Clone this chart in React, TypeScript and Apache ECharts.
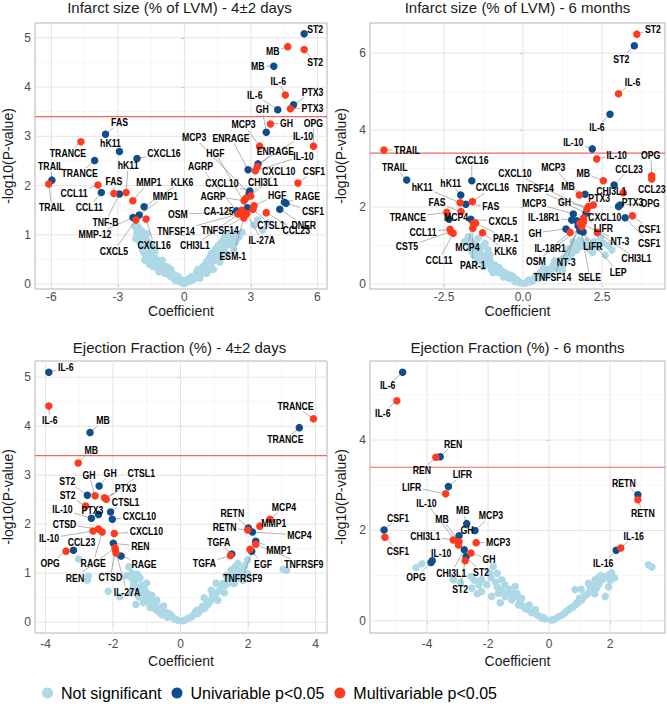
import React, { useEffect, useRef } from "react";
import * as echarts from "echarts";

// ---------------- data ----------------
const legendNames = ["Not significant", "Univariable p<0.05", "Multivariable p<0.05"];
const panelTitles = [
  "Infarct size (% of LVM) - 4±2 days",
  "Infarct size (% of LVM) - 6 months",
  "Ejection Fraction (%) - 4±2 days",
  "Ejection Fraction (%) - 6 months",
];
const threshold = 3.4;

// Panel 1: Infarct size 4±2 days
const p1Names = ["ST2","MB","ST2","MB","IL-6","PTX3","IL-6","PTX3","GH","GH","OPG","MCP3","FAS","TRANCE","hK11","CXCL16","TRANCE","TRAIL","TRAIL","CCL11","CCL11","hK11","FAS","TNF-B","MMP1","KLK6","MMP1","MMP-12","CXCL5","CXCL16","IL-10","ENRAGE","IL-10","ENRAGE","CSF1","MCP3","CXCL10","CHI3L1","CXCL10","AGRP","RAGE","HGF","HGF","CSF1","DNER","AGRP","CA-125","OSM","CTSL1","CCL23","TNFSF14","TNFSF14","CHI3L1","IL-27A","ESM-1"];
const p1Group = ["U","M","M","U","M","U","U","M","M","U","M","M","U","M","U","U","U","U","M","M","U","M","M","U","M","U","U","U","M","M","U","M","M","U","M","U","M","M","U","M","U","M","U","U","U","U","M","U","M","M","M","M","U","M","M"];
const p1Coef = [5.40,4.66,5.40,4.03,4.55,4.92,4.21,4.78,3.88,3.69,5.82,3.39,-3.56,-4.67,-2.93,-2.14,-4.05,-5.98,-6.12,-3.90,-3.75,-2.63,-3.18,-2.93,-2.33,-1.82,-2.04,-2.32,-2.19,-1.73,3.32,3.29,3.20,2.87,5.12,2.92,2.99,2.77,2.95,2.69,4.51,3.14,2.84,4.58,4.30,2.35,2.58,2.41,3.09,3.69,2.42,2.69,2.50,2.81,2.68];
const p1LogP = [5.08,4.82,4.76,4.42,3.84,3.64,3.54,3.56,3.25,3.08,2.80,2.80,3.04,2.89,2.69,2.55,2.51,2.11,2.03,2.01,1.86,1.86,1.84,1.83,1.69,1.57,1.40,1.35,1.30,1.32,2.44,2.38,2.30,2.32,2.05,1.84,1.79,1.74,1.89,1.69,1.66,1.59,1.55,1.64,1.52,1.49,1.50,1.46,1.52,1.45,1.42,1.37,1.44,1.43,1.34];
const p1NotSig = [[-2.23,1.17],[-2.15,1.05],[-2.05,1.12],[-2.2,0.92],[-1.95,1.0],[-1.85,0.88],[-1.75,0.95],[-1.9,0.75],[-1.8,0.62],[-1.7,0.78],[-1.62,0.85],[-1.55,0.7],[-1.79,0.49],[-1.65,0.55],[-1.5,0.6],[-1.45,0.48],[-1.38,0.55],[-1.3,0.42],[-1.25,0.5],[-1.4,0.35],[-1.2,0.33],[-1.1,0.4],[-1.05,0.3],[-0.95,0.36],[-1.15,0.25],[-0.9,0.22],[-0.82,0.3],[-0.75,0.2],[-0.68,0.26],[-0.6,0.15],[-0.55,0.22],[-0.48,0.12],[-0.4,0.17],[-0.35,0.08],[-0.28,0.12],[-0.22,0.05],[-0.15,0.07],[-0.1,0.03],[-0.05,0.01],[-0.62,0.3],[-1.0,0.48],[-1.33,0.66],[-1.58,0.4],[-2.0,0.85],[-2.1,0.98],[-1.98,0.92],[-1.88,0.68],[-1.72,0.6],[-1.6,0.62],[-1.52,0.52],[-1.35,0.45],[-1.18,0.45],[-1.12,0.35],[-0.98,0.28],[-0.85,0.25],[-0.78,0.35],[-0.7,0.3],[-0.5,0.18],[-0.42,0.08],[-0.3,0.16],[-0.18,0.1],[-0.08,0.06],[-1.7,1.02],[-1.92,1.08],[-2.12,1.18],[-1.48,0.78],[0.05,0.02],[0.12,0.05],[0.2,0.08],[0.28,0.06],[0.35,0.13],[0.42,0.1],[0.5,0.18],[0.58,0.15],[0.65,0.24],[0.72,0.2],[0.8,0.3],[0.88,0.26],[0.95,0.38],[1.02,0.34],[1.1,0.45],[1.18,0.4],[1.25,0.52],[1.34,0.48],[1.4,0.6],[1.47,0.55],[1.55,0.68],[1.62,0.63],[1.7,0.76],[1.78,0.72],[1.85,0.84],[1.92,0.8],[2.0,0.92],[2.1,1.04],[2.23,0.69],[2.15,0.88],[1.3,0.3],[1.0,0.22],[0.7,0.12],[1.6,0.45],[1.9,0.6],[3.13,1.2],[3.75,1.24],[3.53,1.1],[3.3,1.3],[2.6,1.05],[2.45,0.95],[0.15,0.1],[0.32,0.15],[0.45,0.16],[0.55,0.25],[0.62,0.3],[0.75,0.28],[0.85,0.36],[0.98,0.44],[1.08,0.5],[1.15,0.55],[1.22,0.62],[1.32,0.58],[1.38,0.7],[1.45,0.65],[1.52,0.78],[1.68,0.85],[1.75,0.9],[1.82,0.95],[1.95,1.0],[2.05,0.8],[1.58,0.52],[1.1,0.28],[2.3,0.85],[2.2,1.0]];
const p1XTicks = [-6, -3, 0, 3, 6];
const p1YTicks = [0, 1, 2, 3, 4, 5];

// Panel 2: Infarct size 6 months
const p2Names = ["ST2","ST2","IL-6","IL-6","IL-10","IL-10","TRAIL","TRAIL","CXCL16","OPG","CCL23","MCP3","MB","MB","CCL23","CHI3L1","PTX3","OPG","PTX3","GH","CXCL10","TNFSF14","MCP3","CXCL10","IL-18R1","LIFR","GH","NT-3","IL-18R1","LIFR","CHI3L1","OSM","NT-3","LEP","TNFSF14","SELE","CSF1","CSF1","hK11","hK11","FAS","CXCL16","FAS","TRANCE","MCP4","CXCL5","PAR-1","MCP4","PAR-1","KLK6","CCL11","CST5","CCL11"];
const p2Group = ["M","U","M","U","U","M","M","U","U","M","M","M","M","U","U","M","U","U","M","M","M","U","U","U","U","M","U","M","M","U","M","M","U","U","M","U","M","U","U","M","U","M","M","M","U","U","M","M","M","M","M","M","M"];
const p2Coef = [3.60,3.52,3.02,2.75,2.19,2.33,-4.40,-3.68,-1.62,4.07,4.07,1.78,2.54,1.96,2.88,3.17,3.02,3.07,2.22,2.07,2.02,1.99,1.59,1.70,1.54,1.91,1.36,1.80,1.49,1.80,2.35,1.86,1.74,1.90,1.91,1.82,3.46,3.23,-1.97,-1.99,-1.81,-1.60,-1.96,-2.41,-2.34,-1.65,-1.50,-1.57,-1.59,-1.28,-2.31,-2.28,-2.21];
const p2LogP = [6.49,6.19,4.94,4.41,3.51,3.25,3.48,2.70,2.68,2.81,2.73,2.31,2.68,2.33,2.57,2.37,2.01,2.05,2.05,2.01,1.94,1.84,1.82,1.64,1.66,1.71,1.43,1.58,1.34,1.38,1.34,1.49,1.51,1.35,1.61,1.48,1.77,1.72,2.31,2.11,2.07,2.14,1.88,1.86,1.68,1.68,1.58,1.58,1.45,1.33,1.42,1.36,1.32];
const p2NotSig = [[-1.73,1.23],[-1.42,1.19],[-1.6,1.05],[-1.52,0.88],[-1.31,0.97],[-1.1,0.88],[-1.57,0.75],[-1.35,0.78],[-1.2,0.7],[-1.31,0.62],[-1.15,0.55],[-0.99,0.45],[-1.05,0.62],[-0.9,0.5],[-0.82,0.38],[-0.67,0.28],[-0.75,0.42],[-0.58,0.3],[-0.5,0.2],[-0.42,0.24],[-0.36,0.15],[-0.28,0.1],[-0.2,0.12],[-0.09,0.03],[-0.15,0.06],[-1.45,0.6],[-1.25,0.45],[-0.95,0.3],[-0.62,0.18],[-1.68,0.95],[-1.85,1.1],[-1.2,1.05],[-1.65,1.12],[-1.5,1.0],[-1.45,0.9],[-1.38,0.82],[-1.25,0.75],[-1.18,0.62],[-1.08,0.52],[-1.0,0.38],[-0.85,0.45],[-0.78,0.3],[-0.7,0.35],[-0.55,0.25],[-0.45,0.15],[-0.32,0.2],[-0.25,0.06],[-1.62,0.85],[-1.4,0.68],[-1.05,0.75],[0.08,0.02],[0.17,0.1],[0.3,0.08],[0.4,0.18],[0.59,0.28],[0.5,0.14],[0.7,0.32],[0.8,0.24],[0.9,0.4],[1.01,0.45],[1.1,0.38],[1.2,0.55],[1.33,0.62],[1.25,0.48],[1.45,0.7],[1.54,0.8],[1.4,0.9],[1.65,1.01],[1.8,1.14],[1.7,0.88],[1.96,1.01],[2.1,0.9],[2.38,0.95],[2.54,1.06],[2.81,0.88],[2.6,0.75],[2.45,1.2],[1.58,1.1],[1.0,0.6],[0.65,0.4],[2.25,1.1],[2.7,1.0],[0.22,0.05],[0.35,0.15],[0.45,0.22],[0.55,0.3],[0.65,0.22],[0.75,0.38],[0.85,0.32],[0.95,0.48],[1.05,0.52],[1.15,0.6],[1.28,0.68],[1.38,0.75],[1.5,0.92],[1.6,0.95],[1.72,1.05],[1.85,0.98],[2.0,1.1],[2.3,1.0],[2.2,0.82],[1.25,0.35]];
const p2XTicks = [-2.5, 0, 2.5];
const p2YTicks = [0, 2, 4, 6];

// Panel 3: Ejection fraction 4±2 days
const p3Names = ["IL-6","IL-6","MB","MB","TRANCE","TRANCE","GH","GH","ST2","PTX3","CTSL1","ST2","PTX3","IL-10","CTSL1","CXCL10","IL-10","CTSD","RAGE","CXCL10","CCL23","OPG","REN","REN","CTSD","IL-27A","RAGE","RETN","RETN","MCP4","MMP1","MCP4","MMP1","TNFRSF9","EGF","TNFRSF9","TGFA","TGFA"];
const p3Group = ["U","M","U","M","U","M","U","M","U","M","M","M","U","U","U","U","M","M","M","M","U","M","U","M","M","M","U","U","M","M","M","U","U","M","M","U","U","M"];
const p3Coef = [-3.90,-3.90,-2.68,-3.03,3.52,3.94,-2.41,-2.53,-2.76,-2.25,-2.20,-2.81,-2.43,-2.64,-2.07,-2.02,-2.59,-2.43,-2.32,-1.96,-3.17,-3.39,-1.99,-1.94,-1.93,-1.91,-1.76,2.01,1.99,2.65,2.35,2.13,2.23,2.23,2.06,2.11,1.52,1.48];
const p3LogP = [5.10,4.41,3.87,3.25,3.97,4.15,2.78,2.58,2.59,2.54,2.51,2.37,2.20,2.12,2.25,2.10,1.86,1.90,1.84,1.81,1.47,1.45,1.61,1.52,1.48,1.41,1.35,1.92,1.88,2.10,1.96,1.84,1.65,1.59,1.49,1.45,1.39,1.36];
const p3NotSig = [[-3.02,1.29],[-2.73,0.94],[-2.76,0.86],[-2.14,0.63],[-1.8,0.52],[-1.53,1.13],[-1.44,1.0],[-1.34,0.86],[-1.39,0.72],[-1.24,0.52],[-1.05,0.65],[-0.95,0.45],[-0.75,0.38],[-0.65,0.28],[-0.46,0.21],[-0.26,0.12],[-0.07,0.04],[-1.32,0.36],[-1.15,0.75],[-1.1,0.4],[-0.85,0.55],[-0.9,0.3],[-0.55,0.15],[-0.35,0.18],[-0.15,0.06],[-1.6,0.95],[-1.2,0.9],[-1.0,0.8],[-0.7,0.45],[-0.5,0.33],[-1.48,0.6],[-1.45,0.9],[-1.38,0.8],[-1.3,0.7],[-1.2,0.62],[-1.12,0.55],[-1.02,0.48],[-0.92,0.4],[-0.82,0.32],[-0.72,0.25],[-0.62,0.2],[-0.4,0.1],[-0.3,0.15],[-0.2,0.08],[-1.28,0.98],[-1.1,0.68],[-0.98,0.58],[-0.8,0.42],[-0.6,0.3],[0.08,0.03],[0.23,0.08],[0.35,0.12],[0.52,0.18],[0.6,0.25],[0.71,0.28],[0.86,0.41],[1.0,0.52],[0.91,0.65],[1.15,0.65],[1.25,0.79],[1.4,0.89],[1.5,1.06],[1.64,0.92],[1.79,1.06],[1.99,1.27],[1.59,0.79],[1.99,0.99],[1.9,1.15],[3.04,1.08],[3.14,1.06],[1.1,0.45],[0.8,0.35],[0.45,0.22],[1.3,0.6],[1.7,1.2],[1.05,0.8],[0.7,0.5],[1.85,0.85],[0.15,0.05],[0.3,0.1],[0.4,0.16],[0.5,0.25],[0.65,0.32],[0.78,0.38],[0.92,0.46],[1.05,0.58],[1.2,0.7],[1.32,0.75],[1.45,0.8],[1.55,0.95],[1.68,1.0],[1.75,0.9],[1.35,0.95],[0.95,0.55],[1.6,1.12],[1.85,1.0]];
const p3XTicks = [-4, -2, 0, 2, 4];
const p3YTicks = [0, 1, 2, 3, 4, 5];

// Panel 4: Ejection fraction 6 months
const p4Names = ["IL-6","IL-6","REN","REN","LIFR","LIFR","RETN","RETN","CSF1","CSF1","MB","MCP3","GH","CHI3L1","MB","IL-10","MCP3","CHI3L1","GH","ST2","ST2","IL-10","OPG","IL-16","IL-16"];
const p4Group = ["U","M","U","M","U","M","U","M","U","M","U","U","U","M","M","M","M","U","M","U","M","U","U","U","M"];
const p4Coef = [-4.80,-4.99,-3.57,-3.71,-3.30,-3.39,2.91,2.91,-5.41,-5.38,-2.70,-2.43,-2.95,-3.14,-2.95,-2.97,-2.39,-2.78,-2.56,-2.72,-2.75,-3.83,-3.87,2.20,2.35];
const p4LogP = [5.50,4.87,3.63,3.62,2.97,2.81,2.79,2.68,2.01,1.85,2.15,2.00,1.88,1.79,1.75,1.68,1.73,1.57,1.50,1.42,1.33,1.33,1.29,1.56,1.61];
const p4NotSig = [[-4.36,1.18],[-4.17,1.26],[-3.14,0.91],[-2.56,0.98],[-2.53,0.72],[-2.21,0.91],[-2.21,0.65],[-1.83,1.2],[-1.95,1.05],[-1.11,0.76],[-1.55,0.91],[-1.66,0.61],[-1.44,0.54],[-1.22,0.46],[-1.0,0.35],[-0.79,0.28],[-0.57,0.18],[-0.35,0.11],[-0.13,0.04],[-1.88,0.54],[-2.04,0.8],[-1.3,0.7],[-0.9,0.5],[-0.65,0.35],[-0.45,0.25],[-1.75,0.85],[-2.35,0.6],[-1.05,0.6],[-0.25,0.06],[-1.6,0.4],[-2.9,0.85],[-1.9,0.95],[-1.7,0.75],[-1.55,0.68],[-1.35,0.6],[-1.15,0.52],[-0.95,0.42],[-0.85,0.32],[-0.7,0.25],[-0.5,0.2],[-0.4,0.14],[-0.2,0.08],[-1.45,0.8],[-1.2,0.62],[-2.3,0.8],[-2.45,0.9],[-1.7,1.05],[0.2,0.04],[0.42,0.13],[0.63,0.24],[0.85,0.35],[1.07,0.46],[1.24,0.58],[1.4,0.69],[1.62,0.8],[1.73,0.91],[1.89,0.98],[2.05,1.06],[1.84,0.54],[1.29,0.83],[1.51,0.91],[3.26,1.24],[3.37,1.19],[0.85,0.69],[0.3,0.09],[0.55,0.2],[0.95,0.4],[1.15,0.55],[1.5,0.6],[1.95,0.75],[1.7,1.0],[2.15,0.95],[1.05,0.7],[0.1,0.02],[0.5,0.16],[0.7,0.28],[0.78,0.3],[0.9,0.4],[1.0,0.5],[1.12,0.52],[1.3,0.62],[1.35,0.75],[1.45,0.78],[1.55,0.72],[1.68,0.88],[1.8,0.95],[1.95,1.02],[1.6,0.95],[2.0,0.9]];
const p4XTicks = [-4, -2, 0, 2];
const p4YTicks = [0, 2, 4];

// ---------------- layout (label offsets in px, from point to label centre) ----------------
const p1LabelOffsets = [[11,-5],[-15,5],[11,13],[-16,0],[-7,-14],[19,-13],[-23,-15],[22,-1],[16,-1],[-4,-23],[0,-23],[-16,-22],[14,-12],[-13,11],[-9,-8],[27,-5],[-15,13],[-1,-14],[3,23],[-24,8],[-12,15],[2,-27],[0,-12],[-14,28],[16,-19],[38,-25],[26,-19],[-38,17],[-22,31],[8,26],[45,-28],[18,-16],[48,-15],[-17,-32],[16,-12],[-55,-56],[28,-25],[17,-16],[-28,-8],[-31,-5],[23,-6],[23,-11],[-32,-55],[27,8],[24,16],[-36,-44],[-23,1],[-60,2],[18,16],[30,18],[-62,17],[-24,14],[-45,32],[15,27],[-11,38]];
const p2LabelOffsets = [[16,-5],[-13,13],[14,-12],[-13,13],[-19,-7],[20,-4],[23,0],[-12,-13],[0,-21],[-1,-21],[0,10],[-26,-28],[-20,-8],[-17,-8],[15,-16],[-12,-2],[14,-4],[30,-2],[6,-7],[-24,-4],[-72,-36],[-51,-25],[-39,-11],[28,-4],[-28,-3],[20,10],[-31,4],[40,18],[-20,16],[13,15],[39,26],[-46,35],[-12,36],[35,40],[-31,55],[9,50],[17,13],[24,25],[-10,-12],[-38,-16],[25,2],[20,-14],[-24,-9],[-39,5],[7,-2],[32,2],[30,15],[-6,24],[0,37],[23,18],[-27,3],[-44,15],[-14,27]];
const p3LabelOffsets = [[17,-5],[1,14],[13,-12],[13,-13],[-14,12],[-18,-13],[11,-13],[-6,-21],[-20,-14],[21,-10],[35,-26],[-18,-11],[-6,-4],[-29,-9],[15,-10],[27,-3],[-44,7],[-34,-5],[-9,31],[32,-2],[8,-8],[-16,12],[27,3],[-40,30],[-5,28],[11,39],[23,8],[-16,-15],[-23,-3],[14,-12],[14,-3],[47,3],[23,9],[48,20],[13,15],[-9,27],[-13,-12],[-26,8]];
const p4LabelOffsets = [[-15,13],[-14,12],[13,-13],[-14,13],[14,-12],[-34,-7],[-14,-12],[5,13],[14,-12],[13,14],[-4,-13],[16,-15],[8,-6],[-28,-4],[-17,-23],[-32,-42],[22,0],[-13,23],[18,6],[15,16],[-5,28],[9,-8],[-15,15],[-13,13],[13,-12]];

const FONT = '"Liberation Sans", Arial, Helvetica, sans-serif';
const C_NS = "#add8e6";
const C_U = "#104e8b";
const C_M = "#ff3a1f";
const LABEL_FS = 10.5;
const LABEL_SX = 0.83;

type Panel = {
  names: string[]; group: string[]; coef: number[]; logp: number[]; ns: number[][];
  offsets: number[][]; xTicks: number[]; yTicks: number[]; xMinor: number[]; yMinor: number[];
  xDec: number; grid: { left: number; top: number; width: number; height: number };
  xMin: number; xMax: number; yMin: number; yMax: number; yNameGap: number;
};

const panels: Panel[] = [
  { names: p1Names, group: p1Group, coef: p1Coef, logp: p1LogP, ns: p1NotSig, offsets: p1LabelOffsets,
    xTicks: p1XTicks, yTicks: p1YTicks, xMinor: [-4.5, -1.5, 1.5, 4.5], yMinor: [0.5, 1.5, 2.5, 3.5, 4.5], xDec: 0,
    grid: { left: 32, top: 23, width: 295, height: 266 }, xMin: -6.74, xMax: 6.43, yMin: -0.1, yMax: 5.3, yNameGap: 20 },
  { names: p2Names, group: p2Group, coef: p2Coef, logp: p2LogP, ns: p2NotSig, offsets: p2LabelOffsets,
    xTicks: p2XTicks, yTicks: p2YTicks, xMinor: [-3.75, -1.25, 1.25, 3.75], yMinor: [1, 3, 5], xDec: 1,
    grid: { left: 370, top: 23, width: 295, height: 266 }, xMin: -4.84, xMax: 4.49, yMin: -0.13, yMax: 6.78, yNameGap: 22 },
  { names: p3Names, group: p3Group, coef: p3Coef, logp: p3LogP, ns: p3NotSig, offsets: p3LabelOffsets,
    xTicks: p3XTicks, yTicks: p3YTicks, xMinor: [-3, -1, 1, 3], yMinor: [0.5, 1.5, 2.5, 3.5, 4.5], xDec: 0,
    grid: { left: 32, top: 361, width: 295, height: 272 }, xMin: -4.31, xMax: 4.34, yMin: -0.22, yMax: 5.33, yNameGap: 20 },
  { names: p4Names, group: p4Group, coef: p4Coef, logp: p4LogP, ns: p4NotSig, offsets: p4LabelOffsets,
    xTicks: p4XTicks, yTicks: p4YTicks, xMinor: [-5, -3, -1, 1, 3], yMinor: [1, 3, 5], xDec: 0,
    grid: { left: 370, top: 361, width: 295, height: 272 }, xMin: -5.87, xMax: 3.8, yMin: -0.27, yMax: 5.75, yNameGap: 22 },
];

let measureCtx: CanvasRenderingContext2D | null = null;
function labelWidth(s: string): number {
  if (!measureCtx && typeof document !== "undefined") {
    measureCtx = document.createElement("canvas").getContext("2d");
  }
  if (!measureCtx) return s.length * 6;
  measureCtx.font = `bold ${LABEL_FS}px ${FONT}`;
  return measureCtx.measureText(s).width * LABEL_SX;
}

// Reference lines (grid / threshold) drawn through the axis scales: each item is [axis(0=x,1=y), value, kind]
function refLineSeries(i: number, p: Panel, items: number[][], z: number) {
  return {
    type: "custom", xAxisIndex: i, yAxisIndex: i, z, silent: true, clip: false,
    data: items.map((it) => [it[0] === 0 ? it[1] : p.xMin, it[0] === 1 ? it[1] : p.yMin]),
    renderItem: (params: any, api: any) => {
      const it = items[params.dataIndex];
      const isX = it[0] === 0;
      const a = isX ? api.coord([it[1], p.yMin]) : api.coord([p.xMin, it[1]]);
      const b = isX ? api.coord([it[1], p.yMax]) : api.coord([p.xMax, it[1]]);
      const kind = it[2];
      const stroke = kind === 2 ? "#f0685c" : kind === 1 ? "#e4e4e4" : "#f0f0f0";
      const lw = kind === 2 ? 1.1 : kind === 1 ? 1 : 0.6;
      return { type: "line", shape: { x1: a[0], y1: a[1], x2: b[0], y2: b[1] }, style: { stroke, lineWidth: lw } };
    },
  };
}

function buildOption() {
  const grid: any[] = [];
  const xAxis: any[] = [];
  const yAxis: any[] = [];
  const series: any[] = [];
  const title: any[] = [];

  panels.forEach((p, i) => {
    const top = i < 2;
    grid.push({ ...p.grid, show: true, borderColor: "#b3b3b3", borderWidth: 1, backgroundColor: "#fff" });
    title.push({
      text: panelTitles[i], left: p.grid.left + p.grid.width / 2, top: top ? 0 : 340, textAlign: "center", padding: 0,
      textStyle: { fontSize: 15, fontWeight: "normal", color: "#1a1a1a", fontFamily: FONT },
    });
    xAxis.push({
      type: "value", gridIndex: i, min: p.xMin, max: p.xMax,
      axisLine: { show: false }, splitLine: { show: false },
      axisTick: { show: true, length: 3, lineStyle: { color: "#b3b3b3" }, customValues: p.xTicks },
      axisLabel: { customValues: p.xTicks, formatter: (v: number) => v.toFixed(p.xDec), color: "#4d4d4d", fontSize: 12, margin: top ? 2 : 5, fontFamily: FONT },
      name: "Coefficient", nameLocation: "middle", nameGap: top ? 8 : 21,
      nameTextStyle: { fontSize: 14, color: "#1a1a1a", fontFamily: FONT },
    });
    yAxis.push({
      type: "value", gridIndex: i, min: p.yMin, max: p.yMax,
      axisLine: { show: false }, splitLine: { show: false },
      axisTick: { show: true, length: 3, lineStyle: { color: "#b3b3b3" }, customValues: p.yTicks },
      axisLabel: { customValues: p.yTicks, formatter: (v: number) => String(v), color: "#4d4d4d", fontSize: 12, margin: 4, fontFamily: FONT },
      name: "-log10(P-value)", nameLocation: "middle", nameGap: p.yNameGap,
      nameTextStyle: { fontSize: 14, color: "#1a1a1a", fontFamily: FONT },
    });

    const gridItems: number[][] = [
      ...p.xMinor.map((v) => [0, v, 0]),
      ...p.yMinor.map((v) => [1, v, 0]),
      ...p.xTicks.map((v) => [0, v, 1]),
      ...p.yTicks.map((v) => [1, v, 1]),
      [1, threshold, 2],
    ];
    series.push(refLineSeries(i, p, gridItems, 1));

    series.push({
      name: legendNames[0], type: "scatter", xAxisIndex: i, yAxisIndex: i, data: p.ns, symbolSize: 7.5,
      itemStyle: { color: C_NS, opacity: 1 }, z: 2, silent: true,
    });

    const pts = p.coef.map((x, k) => [x, p.logp[k]]);

    series.push({
      type: "custom", xAxisIndex: i, yAxisIndex: i, data: pts, z: 3, silent: true, clip: false,
      renderItem: (params: any, api: any) => {
        const k = params.dataIndex;
        const pt = api.coord([api.value(0), api.value(1)]);
        const [dx, dy] = p.offsets[k];
        const cx = pt[0] + dx, cy = pt[1] + dy;
        const hw = labelWidth(p.names[k]) / 2 + 1.5, hh = 5.5;
        const vx = pt[0] - cx, vy = pt[1] - cy;
        if (Math.abs(vx) <= hw + 2 && Math.abs(vy) <= hh + 2) return { type: "group", children: [] };
        const t = Math.min(vx !== 0 ? hw / Math.abs(vx) : Infinity, vy !== 0 ? hh / Math.abs(vy) : Infinity);
        const ex = cx + vx * t, ey = cy + vy * t;
        if (Math.hypot(pt[0] - ex, pt[1] - ey) < 5) return { type: "group", children: [] };
        return { type: "line", shape: { x1: ex, y1: ey, x2: pt[0], y2: pt[1] }, style: { stroke: "#808080", lineWidth: 0.6 } };
      },
    });

    const uData = pts.filter((_, k) => p.group[k] === "U");
    const mData = pts.filter((_, k) => p.group[k] === "M");
    series.push({
      name: legendNames[1], type: "scatter", xAxisIndex: i, yAxisIndex: i, data: uData, symbolSize: 7.5,
      itemStyle: { color: C_U, opacity: 1 }, z: 4, silent: true,
    });
    series.push({
      name: legendNames[2], type: "scatter", xAxisIndex: i, yAxisIndex: i, data: mData, symbolSize: 7.5,
      itemStyle: { color: C_M, opacity: 1 }, z: 5, silent: true,
    });

    series.push({
      type: "custom", xAxisIndex: i, yAxisIndex: i, data: pts, z: 6, silent: true, clip: false,
      renderItem: (params: any, api: any) => {
        const k = params.dataIndex;
        const pt = api.coord([api.value(0), api.value(1)]);
        const [dx, dy] = p.offsets[k];
        return {
          type: "text", x: pt[0] + dx, y: pt[1] + dy, scaleX: LABEL_SX,
          style: { text: p.names[k], fill: "#000", fontSize: LABEL_FS, fontWeight: "bold", fontFamily: FONT, align: "center", verticalAlign: "middle" },
        };
      },
    });
  });

  return {
    animation: false,
    backgroundColor: "#fff",
    title,
    grid,
    xAxis,
    yAxis,
    series,
    legend: {
      data: legendNames.map((n) => ({ name: n, icon: "circle" })),
      left: 42, top: 685, padding: 0, itemWidth: 11, itemHeight: 11, itemGap: 10, selectedMode: false,
      textStyle: { fontSize: 16, color: "#000", fontFamily: FONT, padding: [0, 0, 0, 3] },
    },
  };
}

export default function App() {
  const ref = useRef<HTMLDivElement>(null);
  useEffect(() => {
    if (!ref.current) return;
    const chart = echarts.init(ref.current, null, { renderer: "svg" });
    chart.setOption(buildOption() as any);
    return () => chart.dispose();
  }, []);
  return <div ref={ref} style={{ position: "fixed", left: 0, top: 0, width: 667, height: 708, background: "#fff" }} />;
}
